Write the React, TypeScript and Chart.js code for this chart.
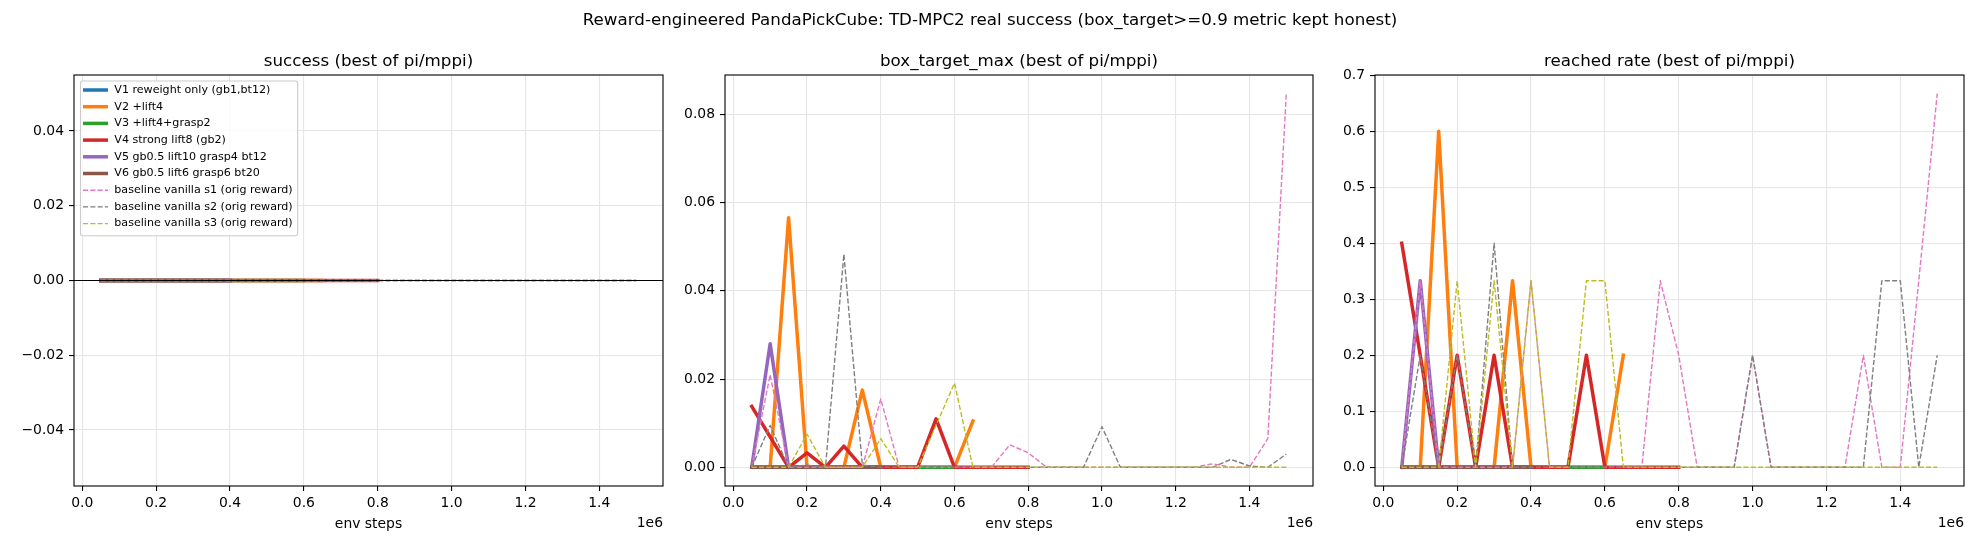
import React, { useEffect, useRef } from "react";
import { Chart, registerables } from "chart.js";

Chart.register(...registerables);

const FONT = '"DejaVu Sans", "Liberation Sans", sans-serif';

const SUPTITLE =
  "Reward-engineered PandaPickCube: TD-MPC2 real success (box_target>=0.9 metric kept honest)";
const PANEL_TITLES = [
  "success (best of pi/mppi)",
  "box_target_max (best of pi/mppi)",
  "reached rate (best of pi/mppi)",
];
const X_LABEL = "env steps";
const X_OFFSET_LABEL = "1e6";

const STEPS = [
  50000, 100000, 150000, 200000, 250000, 300000, 350000, 400000, 450000, 500000,
  550000, 600000, 650000, 700000, 750000, 800000, 850000, 900000, 950000, 1000000,
  1050000, 1100000, 1150000, 1200000, 1250000, 1300000, 1350000, 1400000, 1450000, 1500000,
];
const X_TICKS = [0, 200000, 400000, 600000, 800000, 1000000, 1200000, 1400000];

const SERIES_LABELS = [
  "V1 reweight only (gb1,bt12)",
  "V2 +lift4",
  "V3 +lift4+grasp2",
  "V4 strong lift8 (gb2)",
  "V5 gb0.5 lift10 grasp4 bt12",
  "V6 gb0.5 lift6 grasp6 bt20",
  "baseline vanilla s1 (orig reward)",
  "baseline vanilla s2 (orig reward)",
  "baseline vanilla s3 (orig reward)",
];
const SERIES_COLORS = [
  "#1f77b4", "#ff7f0e", "#2ca02c", "#d62728", "#9467bd", "#8c564b",
  "#e377c2", "#7f7f7f", "#bcbd22",
];
const SERIES_DASHED = [false, false, false, false, false, false, true, true, true];

// ---- panel 1: success ----
const SUCCESS_V1 = [0, 0, 0, 0, 0, 0, 0, 0];
const SUCCESS_V2 = [0, 0, 0, 0, 0, 0, 0, 0, 0, 0, 0, 0, 0];
const SUCCESS_V3 = [0, 0, 0, 0, 0, 0, 0, 0, 0, 0, 0, 0];
const SUCCESS_V4 = [0, 0, 0, 0, 0, 0, 0, 0, 0, 0, 0, 0, 0, 0, 0, 0];
const SUCCESS_V5 = [0, 0, 0, 0, 0, 0, 0, 0];
const SUCCESS_V6 = [0, 0, 0, 0, 0, 0, 0, 0];
const SUCCESS_S1 = [0, 0, 0, 0, 0, 0, 0, 0, 0, 0, 0, 0, 0, 0, 0, 0, 0, 0, 0, 0, 0, 0, 0, 0, 0, 0, 0, 0, 0, 0];
const SUCCESS_S2 = [0, 0, 0, 0, 0, 0, 0, 0, 0, 0, 0, 0, 0, 0, 0, 0, 0, 0, 0, 0, 0, 0, 0, 0, 0, 0, 0, 0, 0, 0];
const SUCCESS_S3 = [0, 0, 0, 0, 0, 0, 0, 0, 0, 0, 0, 0, 0, 0, 0, 0, 0, 0, 0, 0, 0, 0, 0, 0, 0, 0, 0, 0, 0, 0];

// ---- panel 2: box_target_max ----
const BOX_V1 = [0, 0, 0, 0, 0, 0, 0, 0];
const BOX_V2 = [0, 0, 0.0566, 0, 0, 0, 0.0175, 0, 0, 0, 0, 0, 0.0105];
const BOX_V3 = [0, 0, 0, 0, 0, 0, 0, 0, 0, 0, 0, 0];
const BOX_V4 = [0.0138, 0.0069, 0, 0.0033, 0, 0.0048, 0, 0, 0, 0, 0.011, 0, 0, 0, 0, 0];
const BOX_V5 = [0, 0.028, 0, 0, 0, 0, 0, 0];
const BOX_V6 = [0, 0, 0, 0, 0, 0, 0, 0];
const BOX_S1 = [0, 0.021, 0, 0, 0, 0, 0, 0.0155, 0, 0, 0, 0, 0, 0, 0.0051, 0.0033, 0, 0, 0, 0, 0, 0, 0, 0, 0, 0.0008, 0, 0, 0.0065, 0.0847];
const BOX_S2 = [0, 0.0095, 0, 0.0005, 0, 0.0483, 0.0005, 0, 0, 0, 0, 0, 0, 0, 0, 0, 0, 0, 0, 0.0092, 0, 0, 0, 0, 0, 0, 0.0018, 0.0003, 0, 0.003];
const BOX_S3 = [0, 0, 0, 0.0075, 0, 0, 0, 0.0065, 0, 0, 0.0095, 0.0191, 0, 0, 0, 0, 0, 0, 0, 0, 0, 0, 0, 0, 0, 0, 0, 0, 0, 0];

// ---- panel 3: reached rate ----
const REACHED_V1 = [0, 0, 0, 0, 0, 0, 0, 0];
const REACHED_V2 = [0, 0, 0.6, 0, 0, 0, 0.333, 0, 0, 0, 0, 0, 0.2];
const REACHED_V3 = [0, 0, 0, 0, 0, 0, 0, 0, 0, 0, 0, 0];
const REACHED_V4 = [0.4, 0.2, 0, 0.2, 0, 0.2, 0, 0, 0, 0, 0.2, 0, 0, 0, 0, 0];
const REACHED_V5 = [0, 0.333, 0, 0, 0, 0, 0, 0];
const REACHED_V6 = [0, 0, 0, 0, 0, 0, 0, 0];
const REACHED_S1 = [0, 0.333, 0, 0, 0, 0, 0, 0.333, 0, 0, 0, 0, 0, 0, 0.333, 0.2, 0, 0, 0, 0.2, 0, 0, 0, 0, 0, 0.2, 0, 0, 0.333, 0.667];
const REACHED_S2 = [0, 0.2, 0, 0.2, 0, 0.4, 0, 0, 0, 0, 0, 0, 0, 0, 0, 0, 0, 0, 0, 0.2, 0, 0, 0, 0, 0, 0, 0.333, 0.333, 0, 0.2];
const REACHED_S3 = [0, 0, 0, 0.333, 0, 0.333, 0, 0.333, 0, 0, 0.333, 0.333, 0, 0, 0, 0, 0, 0, 0, 0, 0, 0, 0, 0, 0, 0, 0, 0, 0, 0];

const Y_TICKS_SUCCESS = [-0.04, -0.02, 0, 0.02, 0.04];
const Y_TICKS_BOX = [0, 0.02, 0.04, 0.06, 0.08];
const Y_TICKS_REACHED = [0, 0.1, 0.2, 0.3, 0.4, 0.5, 0.6, 0.7];

const PANEL_DATA = [
  [SUCCESS_V1, SUCCESS_V2, SUCCESS_V3, SUCCESS_V4, SUCCESS_V5, SUCCESS_V6, SUCCESS_S1, SUCCESS_S2, SUCCESS_S3],
  [BOX_V1, BOX_V2, BOX_V3, BOX_V4, BOX_V5, BOX_V6, BOX_S1, BOX_S2, BOX_S3],
  [REACHED_V1, REACHED_V2, REACHED_V3, REACHED_V4, REACHED_V5, REACHED_V6, REACHED_S1, REACHED_S2, REACHED_S3],
];
const PANEL_Y_TICKS = [Y_TICKS_SUCCESS, Y_TICKS_BOX, Y_TICKS_REACHED];
const PANEL_Y_DECIMALS = [2, 2, 1];

// layout (figure pixels)
const FIG_W = 1980;
const FIG_H = 550;
const AX_TOP = 75;
const AX_BOTTOM = 486;
const AX_LEFTS = [74, 725, 1375];
const AX_RIGHTS = [663, 1313, 1964];

function yLimits(series: number[][]): [number, number] {
  let lo = Infinity;
  let hi = -Infinity;
  series.forEach((s) => s.forEach((v) => { lo = Math.min(lo, v); hi = Math.max(hi, v); }));
  if (hi - lo < 1e-12) return [lo - 0.055, hi + 0.055];
  const m = (hi - lo) * 0.05;
  return [lo - m, hi + m];
}

function xLimits(): [number, number] {
  const lo = STEPS[0];
  const hi = STEPS[STEPS.length - 1];
  const m = (hi - lo) * 0.05;
  return [lo - m, hi + m];
}

function fmtTick(v: number, dec: number) {
  const s = Math.abs(v).toFixed(dec);
  return v < -1e-12 ? "\u2212" + s : s;
}

function makePlugin(panel: number) {
  return {
    id: "figdeco" + panel,
    afterDatasetsDraw(chart: any) {
      const ctx = chart.ctx;
      const a = chart.chartArea;
      ctx.save();
      if (panel === 0) {
        const y0 = chart.scales.y.getPixelForValue(0);
        ctx.strokeStyle = "#000";
        ctx.lineWidth = 1.1;
        ctx.beginPath();
        ctx.moveTo(a.left, y0);
        ctx.lineTo(a.right, y0);
        ctx.stroke();
      }
      ctx.strokeStyle = "#000";
      ctx.lineWidth = 1.1;
      ctx.strokeRect(a.left, a.top, a.right - a.left, a.bottom - a.top);
      ctx.restore();
    },
    afterDraw(chart: any) {
      const ctx = chart.ctx;
      const a = chart.chartArea;
      ctx.save();
      ctx.fillStyle = "#000";
      if (panel === 0) {
        ctx.font = `16.7px ${FONT}`;
        ctx.textAlign = "center";
        ctx.textBaseline = "middle";
        ctx.fillText(SUPTITLE, FIG_W / 2, 21);
      }
      ctx.font = `16.7px ${FONT}`;
      ctx.textAlign = "center";
      ctx.textBaseline = "alphabetic";
      ctx.fillText(PANEL_TITLES[panel], (a.left + a.right) / 2, 66);

      ctx.font = `13.9px ${FONT}`;
      ctx.textBaseline = "middle";
      ctx.fillText(X_LABEL, (a.left + a.right) / 2, 524);
      ctx.textAlign = "right";
      ctx.fillText(X_OFFSET_LABEL, a.right, 523);

      if (panel === 0) {
        // legend (upper left)
        const fs = 11.1;
        ctx.font = `${fs}px ${FONT}`;
        const rowH = 16.7;
        const boxL = a.left + 6.5;
        const boxT = a.top + 6;
        const handleL = boxL + 2.5;
        const handleR = boxL + 27.5;
        const textL = boxL + 33.8;
        let maxW = 0;
        SERIES_LABELS.forEach((l) => { maxW = Math.max(maxW, ctx.measureText(l).width); });
        const boxW = textL - boxL + maxW + 5;
        const boxH = rowH * SERIES_LABELS.length + 4.5;
        const r = 2.5;
        ctx.beginPath();
        ctx.moveTo(boxL + r, boxT);
        ctx.lineTo(boxL + boxW - r, boxT);
        ctx.quadraticCurveTo(boxL + boxW, boxT, boxL + boxW, boxT + r);
        ctx.lineTo(boxL + boxW, boxT + boxH - r);
        ctx.quadraticCurveTo(boxL + boxW, boxT + boxH, boxL + boxW - r, boxT + boxH);
        ctx.lineTo(boxL + r, boxT + boxH);
        ctx.quadraticCurveTo(boxL, boxT + boxH, boxL, boxT + boxH - r);
        ctx.lineTo(boxL, boxT + r);
        ctx.quadraticCurveTo(boxL, boxT, boxL + r, boxT);
        ctx.closePath();
        ctx.fillStyle = "rgba(255,255,255,0.8)";
        ctx.fill();
        ctx.strokeStyle = "#cccccc";
        ctx.lineWidth = 1.1;
        ctx.stroke();

        SERIES_LABELS.forEach((label, i) => {
          const cy = boxT + 9 + rowH * i;
          ctx.beginPath();
          ctx.strokeStyle = SERIES_COLORS[i];
          if (SERIES_DASHED[i]) {
            ctx.lineWidth = 1.4;
            ctx.setLineDash([5.1, 2.2]);
          } else {
            ctx.lineWidth = 3.5;
            ctx.setLineDash([]);
          }
          ctx.lineCap = "butt";
          ctx.moveTo(handleL, cy);
          ctx.lineTo(handleR, cy);
          ctx.stroke();
          ctx.setLineDash([]);
          ctx.fillStyle = "#000";
          ctx.textAlign = "left";
          ctx.textBaseline = "middle";
          ctx.fillText(label, textL, cy);
        });
      }
      ctx.restore();
    },
  };
}

function Panel({ panel }: { panel: number }) {
  const ref = useRef<HTMLCanvasElement | null>(null);
  useEffect(() => {
    const canvas = ref.current;
    if (!canvas) return;
    const series = PANEL_DATA[panel];
    const [yMin, yMax] = yLimits(series);
    const [xMin, xMax] = xLimits();
    const yTicks = PANEL_Y_TICKS[panel];
    const dec = PANEL_Y_DECIMALS[panel];
    const n = series.length;
    const datasets = series.map((vals, i) => ({
      label: SERIES_LABELS[i],
      data: vals.map((v, j) => ({ x: STEPS[j], y: v })),
      order: n - i,
      borderColor: SERIES_COLORS[i],
      backgroundColor: SERIES_COLORS[i],
      borderWidth: SERIES_DASHED[i] ? 1.4 : 3.5,
      borderDash: SERIES_DASHED[i] ? [5.1, 2.2] : [],
      borderJoinStyle: "round" as const,
      borderCapStyle: SERIES_DASHED[i] ? ("butt" as const) : ("square" as const),
      pointRadius: 0,
      pointHoverRadius: 0,
      fill: false,
      tension: 0,
    }));
    const chart = new Chart(canvas, {
      type: "line",
      data: { datasets },
      options: {
        animation: false,
        responsive: false,
        devicePixelRatio: 1,
        events: [],
        layout: {
          padding: {
            left: 0,
            top: AX_TOP,
            right: FIG_W - AX_RIGHTS[panel],
            bottom: 0,
          },
        },
        plugins: {
          legend: { display: false },
          title: { display: false },
          tooltip: { enabled: false },
        },
        scales: {
          x: {
            type: "linear",
            min: xMin,
            max: xMax,
            afterBuildTicks: (axis: any) => {
              axis.ticks = X_TICKS.map((v) => ({ value: v }));
            },
            afterFit: (axis: any) => {
              axis.height = FIG_H - AX_BOTTOM;
            },
            ticks: {
              color: "#000",
              font: { family: FONT, size: 13.9 },
              padding: 4,
              maxRotation: 0,
              autoSkip: false,
              callback: (v: any) => (Number(v) / 1e6).toFixed(1),
            },
            grid: {
              color: "#e6e6e6",
              lineWidth: 1.1,
              drawTicks: true,
              tickLength: 5,
              tickColor: "#000",
              tickWidth: 1.1,
            },
            border: { display: false },
          },
          y: {
            type: "linear",
            min: yMin,
            max: yMax,
            afterBuildTicks: (axis: any) => {
              axis.ticks = yTicks.map((v) => ({ value: v }));
            },
            afterFit: (axis: any) => {
              axis.width = AX_LEFTS[panel];
            },
            ticks: {
              color: "#000",
              font: { family: FONT, size: 13.9 },
              padding: 5,
              autoSkip: false,
              callback: (v: any) => fmtTick(Number(v), dec),
            },
            grid: {
              color: "#e6e6e6",
              lineWidth: 1.1,
              drawTicks: true,
              tickLength: 5,
              tickColor: "#000",
              tickWidth: 1.1,
            },
            border: { display: false },
          },
        },
      },
      plugins: [makePlugin(panel)],
    } as any);
    return () => chart.destroy();
  }, [panel]);
  return (
    <canvas
      ref={ref}
      width={FIG_W}
      height={FIG_H}
      style={{ position: "absolute", left: 0, top: 0, width: FIG_W, height: FIG_H, display: "block" }}
    />
  );
}

export default function App() {
  return (
    <div
      style={{
        position: "fixed",
        left: 0,
        top: 0,
        width: FIG_W,
        height: FIG_H,
        background: "#fff",
        overflow: "hidden",
      }}
    >
      <Panel panel={0} />
      <Panel panel={1} />
      <Panel panel={2} />
    </div>
  );
}
